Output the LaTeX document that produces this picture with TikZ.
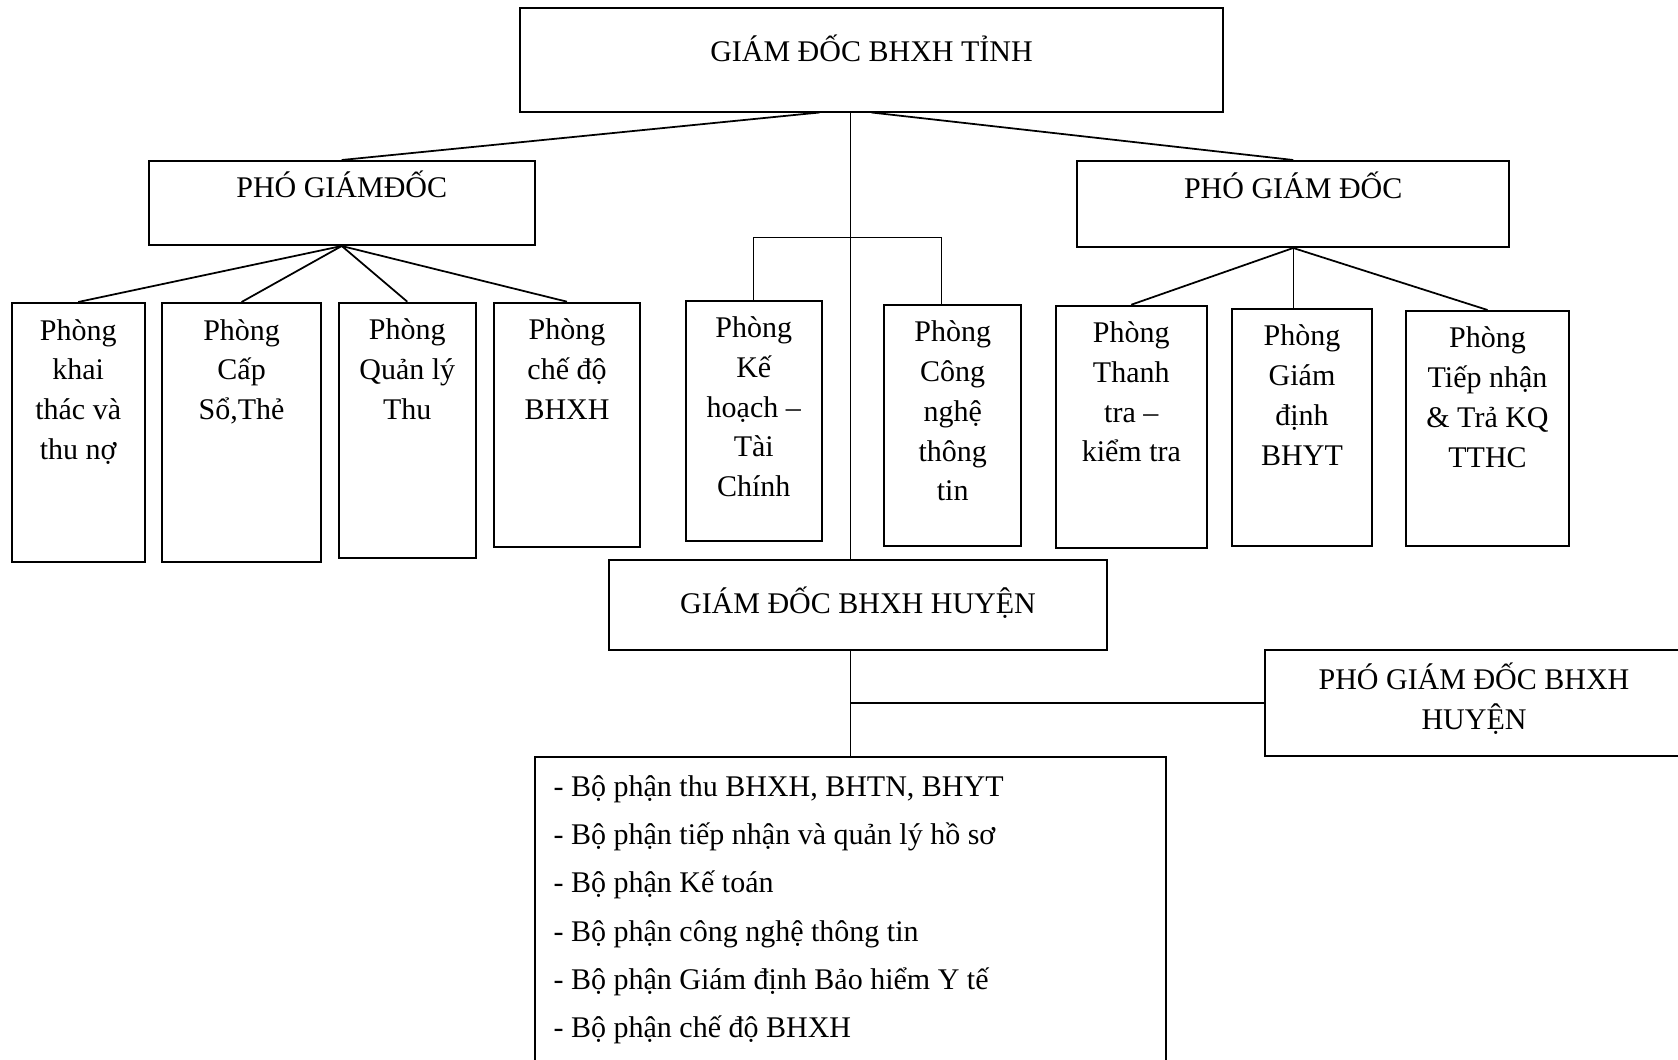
\documentclass[tikz,border=0pt]{standalone}
\usepackage{fontspec}
\setmainfont{Liberation Serif}
\usetikzlibrary{positioning,calc}

\begin{document}
\begin{tikzpicture}[
    x=0.4pt, y=-0.4pt,
    box/.style={rectangle, draw, line width=0.8pt, inner sep=0pt},
    boxtext/.style={anchor=base, align=center, inner sep=0pt, font=\fontsize{12}{15.9}\selectfont},
    listtext/.style={anchor=base west, align=left, inner sep=0pt, font=\fontsize{12}{19.3}\selectfont},
    link/.style={line width=0.7pt},
    vline/.style={line width=0.5pt}
]
    \useasboundingbox (0,0) rectangle (1678,1059);
    \clip (0,0) rectangle (1678,1059);

    % Boxes
    \node[box, minimum width=281.2pt, minimum height=41.2pt] (tinh) at (871.5,60) {};
    \node[box, minimum width=154.2pt, minimum height=33.6pt] (pgdL) at (341.75,203) {};
    \node[box, minimum width=172.6pt, minimum height=34.4pt] (pgdR) at (1293.2,204) {};
    \node[box, minimum width=53.1pt, minimum height=103.6pt] (khaithac) at (78.2,432.5) {};
    \node[box, minimum width=63.8pt, minimum height=103.6pt] (capso) at (241.6,432.5) {};
    \node[box, minimum width=54.6pt, minimum height=102pt] (quanly) at (407.3,430.2) {};
    \node[box, minimum width=58.4pt, minimum height=97.6pt] (chedo) at (567,424.7) {};
    \node[box, minimum width=54.2pt, minimum height=96pt] (kehoach) at (753.8,420.7) {};
    \node[box, minimum width=54.6pt, minimum height=96.3pt] (cntt) at (952.7,425.35) {};
    \node[box, minimum width=60.2pt, minimum height=96.8pt] (thanhtra) at (1131.3,426.7) {};
    \node[box, minimum width=56.2pt, minimum height=94.7pt] (giamdinh) at (1302,427.35) {};
    \node[box, minimum width=65.2pt, minimum height=93.9pt] (tiepnhan) at (1487.5,428.35) {};
    \node[box, minimum width=199.2pt, minimum height=36pt] (huyen) at (858,605) {};
    \node[box, minimum width=167.2pt, minimum height=42.4pt] (pgdhuyen) at (1474,703) {};
    \node[box, minimum width=252.4pt, minimum height=129.3pt] (bophan) at (850.15,918.35) {};

    % Texts (base = last line)
    \node[boxtext] (tinhtext) at ([yshift=-21.5pt]tinh.north) {GIÁM ĐỐC BHXH TỈNH};
    \node[boxtext] (pgdLtext) at ([yshift=-14.9pt]pgdL.north) {PHÓ GIÁMĐỐC};
    \node[boxtext] (pgdRtext) at ([yshift=-15.3pt]pgdR.north) {PHÓ GIÁM ĐỐC};
    \node[boxtext] (khaithactext) at ([yshift=-62.9pt]khaithac.north) {Phòng\\khai\\thác và\\thu nợ};
    \node[boxtext] (capsotext) at ([yshift=-47pt]capso.north) {Phòng\\Cấp\\Sổ,Thẻ};
    \node[boxtext] (quanlytext) at ([yshift=-47pt]quanly.north) {Phòng\\Quản lý\\Thu};
    \node[boxtext] (chedotext) at ([yshift=-47pt]chedo.north) {Phòng\\chế độ\\BHXH};
    \node[boxtext] (kehoachtext) at ([yshift=-78.8pt]kehoach.north) {Phòng\\Kế\\hoạch –\\Tài\\Chính};
    \node[boxtext] (cntttext) at ([yshift=-78.8pt]cntt.north) {Phòng\\Công\\nghệ\\thông\\tin};
    \node[boxtext] (thanhtratext) at ([yshift=-62.9pt]thanhtra.north) {Phòng\\Thanh\\tra –\\kiểm tra};
    \node[boxtext] (giamdinhtext) at ([yshift=-62.9pt]giamdinh.north) {Phòng\\Giám\\định\\BHYT};
    \node[boxtext] (tiepnhantext) at ([yshift=-62.9pt]tiepnhan.north) {Phòng\\Tiếp nhận\\\& Trả KQ\\TTHC};
    \node[boxtext] (huyentext) at ([yshift=-3.3pt]huyen.center) {GIÁM ĐỐC BHXH HUYỆN};
    \node[boxtext, font=\fontsize{12}{16.2}\selectfont] (pgdhuyentext) at ([yshift=-32.2pt]pgdhuyen.north) {PHÓ GIÁM ĐỐC BHXH\\HUYỆN};
    \node[listtext] (bophantext) at ([xshift=7.8pt,yshift=-112.8pt]bophan.north west)
        {- Bộ phận thu BHXH, BHTN, BHYT\\- Bộ phận tiếp nhận và quản lý hồ sơ\\- Bộ phận Kế toán\\- Bộ phận công nghệ thông tin\\- Bộ phận Giám định Bảo hiểm Y tế\\- Bộ phận chế độ BHXH};

    % Links
    \draw[link] ($(tinh.south)+(-52,0)$) -- (pgdL.north);
    \draw[link] (tinh.south) -- (pgdR.north);
    \draw[vline] (tinh.south -| bophan.north) -- (huyen.north -| bophan.north);
    \draw[vline] (huyen.south -| bophan.north) -- (bophan.north);
    \draw[link] (pgdhuyen.west -| bophan.north) -- (pgdhuyen.west);
    \foreach \room in {khaithac,capso,quanly,chedo}
        \draw[link] (pgdL.south) -- (\room.north);
    \draw[link] (pgdR.south) -- (thanhtra.north);
    \draw[vline] (pgdR.south) -- (pgdR.south |- giamdinh.north);
    \draw[link] (pgdR.south) -- (tiepnhan.north);
    \draw[vline] (kehoach.north) -- ++(0,-62) -| ($(cntt.north)+(-11,0)$);

\end{tikzpicture}
\end{document}
